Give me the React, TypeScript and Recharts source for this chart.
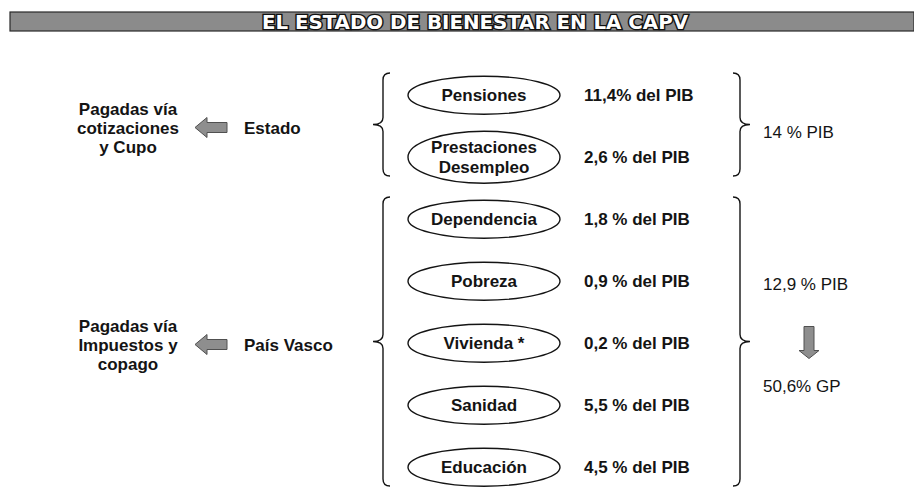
import React from 'react';
import { BarChart, Bar, XAxis, YAxis, ReferenceArea } from 'recharts';

const titulo = 'EL ESTADO DE BIENESTAR EN LA CAPV';
const programas = ['Pensiones', 'Prestaciones\nDesempleo', 'Dependencia', 'Pobreza', 'Vivienda *', 'Sanidad', 'Educación'];
const gastoPIB = [11.4, 2.6, 1.8, 0.9, 0.2, 5.5, 4.5];
const etiquetasPIB = ['11,4% del PIB', '2,6 % del PIB', '1,8 % del PIB', '0,9 % del PIB', '0,2 % del PIB', '5,5 % del PIB', '4,5 % del PIB'];
const grupoPrograma = [0, 0, 1, 1, 1, 1, 1];
const administraciones = ['Estado', 'País Vasco'];
const financiacion = ['Pagadas vía\ncotizaciones\ny Cupo', 'Pagadas vía\nImpuestos y\ncopago'];
const totalPIB = ['14 % PIB', '12,9 % PIB'];
const totalGP = ['', '50,6% GP'];

const data = programas.map((p, i) => ({ programa: p, pib: gastoPIB[i], etiqueta: etiquetasPIB[i] }));

const FONT = '"Liberation Sans", Arial, sans-serif';
const INK = '#141414';
const W = 914;
const H = 490;
const FS = 17;

// column positions
const COL_FIN = 128;
const COL_FLECHA = 195;
const COL_ADMIN = 244;
const LLAVE_IZQ = 383;
const COL_ELIPSE = 484;
const COL_VALOR = 584;
const LLAVE_DER = 740;
const COL_TOTAL = 763;

const Elipse = (props: any) => {
  const { y, height } = props;
  const d = props.payload ?? props;
  const cy = y + height / 2;
  const lineas: string[] = String(d.programa).split('\n');
  const ry = lineas.length > 1 ? 26 : 19;
  const y0 = cy - (lineas.length - 1) * 10;
  return (
    <g>
      <ellipse cx={COL_ELIPSE} cy={cy} rx={76} ry={ry} fill="#fff" stroke={INK} strokeWidth={1.4} />
      <text x={COL_ELIPSE} y={y0} textAnchor="middle" fontFamily={FONT} fontWeight="bold" fontSize={FS} fill={INK}>
        {lineas.map((l, k) => (
          <tspan key={k} x={COL_ELIPSE} dy={k === 0 ? '0.36em' : 20}>{l}</tspan>
        ))}
      </text>
      <text x={COL_VALOR} y={cy} dy="0.36em" fontFamily={FONT} fontWeight="bold" fontSize={FS} fill={INK}>
        {d.etiqueta}
      </text>
    </g>
  );
};

const llavePath = (x0: number, y1: number, y2: number, dir: number) => {
  const ym = (y1 + y2) / 2;
  const r = 7 * dir;
  const c = 10 * dir;
  return `M${x0 + r},${y1} Q${x0},${y1} ${x0},${y1 + 7} L${x0},${ym - 7} Q${x0},${ym} ${x0 - c},${ym} Q${x0},${ym} ${x0},${ym + 7} L${x0},${y2 - 7} Q${x0},${y2} ${x0 + r},${y2}`;
};

const Grupo = (props: any) => {
  const { y, height, g } = props;
  const y1 = y + 9;
  const y2 = y + height - 12;
  const ym = (y1 + y2) / 2;
  const yl = ym + 3;
  const lineas = financiacion[g].split('\n');
  const tieneGP = totalGP[g] !== '';
  const yTotal = tieneGP ? ym - 58 : ym + 7;
  return (
    <g>
      <path d={llavePath(LLAVE_IZQ, y1, y2, 1)} fill="none" stroke={INK} strokeWidth={1.4} />
      <path d={llavePath(LLAVE_DER, y1, y2, -1)} fill="none" stroke={INK} strokeWidth={1.4} />
      <text x={COL_FIN} y={yl - 19} textAnchor="middle" fontFamily={FONT} fontWeight="bold" fontSize={FS} fill={INK}>
        {lineas.map((l, k) => (
          <tspan key={k} x={COL_FIN} dy={k === 0 ? '0.36em' : 19}>{l}</tspan>
        ))}
      </text>
      <path
        d={`M${COL_FLECHA},${yl} L${COL_FLECHA + 12},${yl - 10} L${COL_FLECHA + 12},${yl - 5} L${COL_FLECHA + 32},${yl - 5} L${COL_FLECHA + 32},${yl + 5} L${COL_FLECHA + 12},${yl + 5} L${COL_FLECHA + 12},${yl + 10} Z`}
        fill="#8e8e8e"
        stroke="#505050"
        strokeWidth={1}
      />
      <text x={COL_ADMIN} y={yl} dy="0.36em" fontFamily={FONT} fontWeight="bold" fontSize={FS} fill={INK}>
        {administraciones[g]}
      </text>
      <text x={COL_TOTAL} y={yTotal} dy="0.36em" fontFamily={FONT} fontSize={FS} fill={INK}>
        {totalPIB[g]}
      </text>
      {tieneGP && (
        <>
          <path
            d={`M804,${ym - 15} L814,${ym - 15} L814,${ym + 9} L819,${ym + 9} L809,${ym + 17} L799,${ym + 9} L804,${ym + 9} Z`}
            fill="#8e8e8e"
            stroke="#505050"
            strokeWidth={1}
          />
          <text x={COL_TOTAL} y={ym + 44} dy="0.36em" fontFamily={FONT} fontSize={FS} fill={INK}>
            {totalGP[g]}
          </text>
        </>
      )}
    </g>
  );
};

const Titulo = () => (
  <svg width={W} height={40} style={{ position: 'absolute', left: 0, top: 0 }}>
    <rect x={10} y={12} width={W - 10} height={19} fill="#8b8b8b" stroke="#2a2a2a" strokeWidth={1.2} />
    <text
      x={475}
      y={28.5}
      textAnchor="middle"
      fontFamily='"DejaVu Sans Condensed", "DejaVu Sans", sans-serif'
      fontWeight="bold"
      fontSize={19}
      textLength={426}
      lengthAdjust="spacingAndGlyphs"
      fill="#fff"
      stroke="#111"
      strokeWidth={2.6}
      paintOrder="stroke"
    >
      {titulo}
    </text>
  </svg>
);

export default function App() {
  const grupos = administraciones.map((_, g) => {
    const miembros = programas.filter((_, i) => grupoPrograma[i] === g);
    return { g, primero: miembros[0], ultimo: miembros[miembros.length - 1] };
  });
  return (
    <div style={{ position: 'absolute', left: 0, top: 0, width: W, height: H, overflow: 'hidden', background: '#fff' }}>
      <BarChart width={W} height={H} data={data} layout="vertical" margin={{ top: 64, right: 0, bottom: -8, left: 0 }}>
        <XAxis type="number" hide domain={[0, 12]} />
        <YAxis type="category" dataKey="programa" hide />
        {grupos.map((gr) => (
          <ReferenceArea
            key={gr.g}
            y1={gr.primero}
            y2={gr.ultimo}
            ifOverflow="visible"
            shape={(p: any) => <Grupo {...p} g={gr.g} />}
          />
        ))}
        <Bar dataKey="pib" isAnimationActive={false} shape={Elipse} />
      </BarChart>
      <Titulo />
    </div>
  );
}
